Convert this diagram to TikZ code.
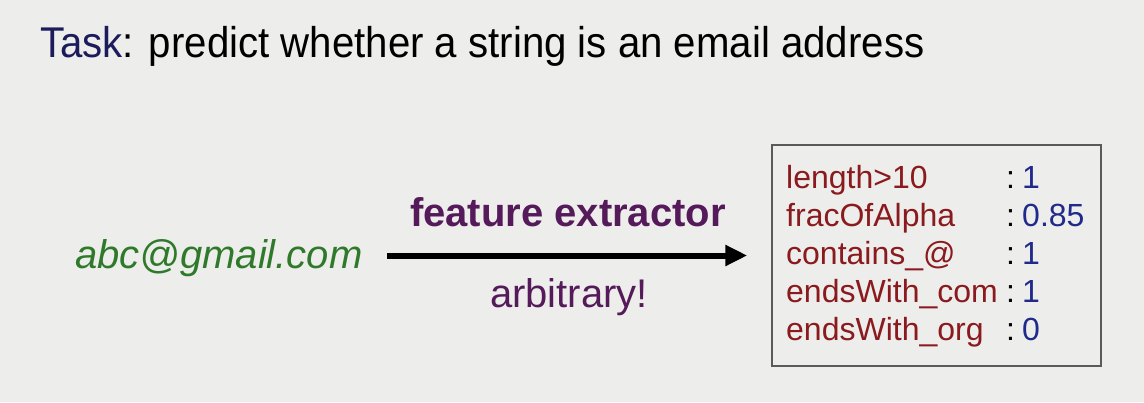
\documentclass[tikz,border=0pt]{standalone}
\usepackage{fontspec}
\setmainfont{Liberation Sans}
\newfontfamily\titlefont[FakeStretch=0.935]{Liberation Sans}
\usetikzlibrary{arrows.meta}
\definecolor{bg}{HTML}{EDEDEB}
\definecolor{navy}{HTML}{1C1C5C}
\definecolor{grn}{HTML}{2F7A2A}
\definecolor{purp}{HTML}{551A5A}
\definecolor{keyred}{HTML}{8A1A1E}
\definecolor{valblue}{HTML}{1F2A8A}
\definecolor{boxgray}{HTML}{5A5A5A}
\begin{document}
\begin{tikzpicture}[x=1pt,y=-1pt,
  txt/.style={inner sep=0pt,anchor=base west},
  rowfont/.style={font=\fontsize{32}{38}\selectfont},
  key/.style={txt,rowfont,text=keyred},
  val/.style={txt,rowfont,text=valblue},
  colon/.style={txt,rowfont,text=black},
  mid/.style={inner sep=0pt,anchor=base,text=purp}]
\fill[bg] (0,0) rectangle (1144,402);
\useasboundingbox (0,0) rectangle (1144,402);
\node[txt,font=\titlefont\fontsize{43}{50}\selectfont] (title) at (40,57) {\textcolor{navy}{Task}: predict whether a string is an email address};
\node[txt,text=grn,font=\fontsize{40}{48}\selectfont\itshape] (email) at (75,268) {abc@gmail.com};
\node[draw=boxgray,line width=1.5pt,minimum width=329pt,minimum height=221pt,inner sep=0pt] (box) at (936.5,255.5) {};
\draw[line width=6pt,-{Triangle[length=22pt,width=20pt]},shorten <=24pt,shorten >=24pt] (email.east |- box.west) -- (box.west);
\node[mid,font=\fontsize{40}{46}\selectfont\bfseries] (fe) at (568,226) {feature extractor};
\node[mid,font=\fontsize{40}{46}\selectfont] (arb) at (569,307) {arbitrary!};
\foreach \k/\v/\y [count=\i] in {length>10/1/188, fracOfAlpha/0.85/226, contains\_@/1/264, endsWith\_com/1/302, endsWith\_org/0/340}{
  \node[key] (k\i) at (786,\y) {\k};
  \node[colon] (c\i) at (1006,\y) {:};
  \node[val] (v\i) at (1022,\y) {\v};
}
\end{tikzpicture}
\end{document}
